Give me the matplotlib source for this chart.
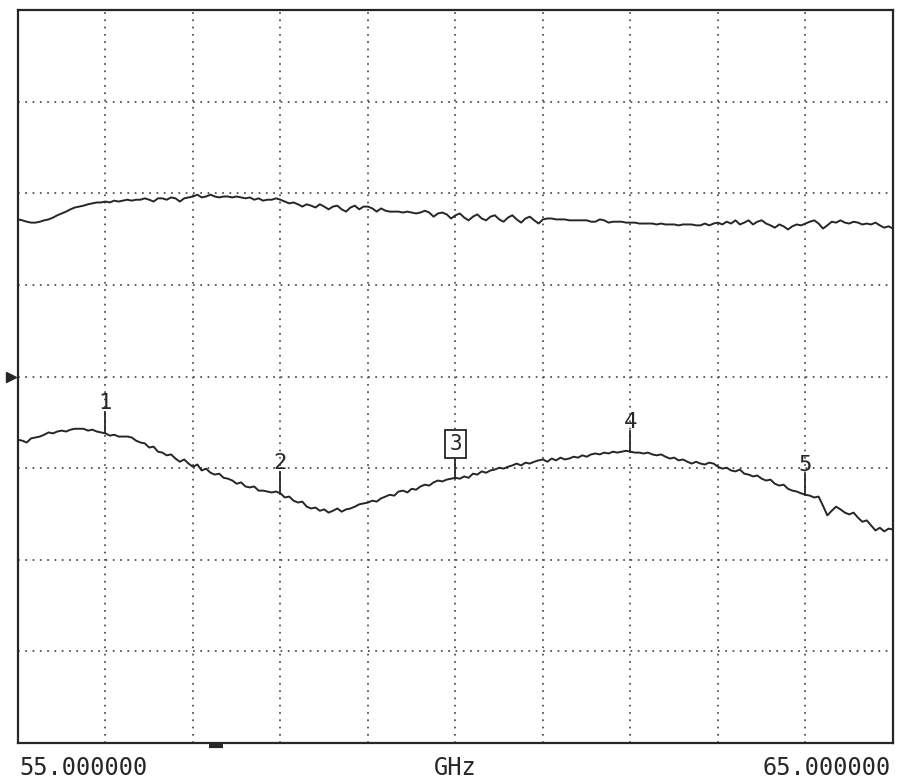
import numpy as np
import matplotlib
matplotlib.use('Agg')
import matplotlib.pyplot as plt

# sweep settings (GHz) and scale
start_ghz = 55.0
stop_ghz = 65.0
db_per_div = 2.0
n_div_y = 8

# upper trace, dB, one reading per 0.05 GHz
upper_db = [3.43, 3.41, 3.38, 3.36, 3.36, 3.38, 3.41, 3.43, 3.47, 3.52,
            3.56, 3.60, 3.65, 3.69, 3.71, 3.73, 3.76, 3.78, 3.80, 3.80,
            3.82, 3.80, 3.84, 3.82, 3.84, 3.86, 3.84, 3.86, 3.86, 3.89,
            3.86, 3.82, 3.89, 3.89, 3.86, 3.91, 3.89, 3.82, 3.89, 3.91,
            3.93, 3.97, 3.91, 3.93, 3.97, 3.93, 3.91, 3.93, 3.93, 3.91,
            3.93, 3.91, 3.89, 3.91, 3.86, 3.89, 3.84, 3.86, 3.86, 3.89,
            3.86, 3.82, 3.78, 3.80, 3.76, 3.71, 3.76, 3.73, 3.69, 3.76,
            3.71, 3.65, 3.71, 3.73, 3.65, 3.60, 3.69, 3.73, 3.65, 3.71,
            3.71, 3.67, 3.60, 3.67, 3.62, 3.60, 3.60, 3.60, 3.58, 3.60,
            3.58, 3.56, 3.58, 3.62, 3.58, 3.49, 3.56, 3.58, 3.54, 3.45,
            3.52, 3.56, 3.47, 3.41, 3.49, 3.54, 3.45, 3.41, 3.49, 3.52,
            3.43, 3.38, 3.47, 3.52, 3.43, 3.36, 3.45, 3.49, 3.41, 3.34,
            3.43, 3.45, 3.45, 3.43, 3.43, 3.43, 3.41, 3.41, 3.41, 3.41,
            3.41, 3.38, 3.38, 3.43, 3.41, 3.36, 3.38, 3.38, 3.38, 3.36,
            3.36, 3.36, 3.34, 3.34, 3.34, 3.34, 3.32, 3.34, 3.32, 3.32,
            3.32, 3.30, 3.32, 3.32, 3.32, 3.30, 3.30, 3.34, 3.30, 3.34,
            3.36, 3.32, 3.38, 3.34, 3.41, 3.32, 3.36, 3.41, 3.32, 3.38,
            3.41, 3.34, 3.30, 3.25, 3.32, 3.28, 3.21, 3.28, 3.32, 3.30,
            3.34, 3.38, 3.41, 3.34, 3.23, 3.30, 3.38, 3.36, 3.41, 3.36,
            3.34, 3.38, 3.36, 3.32, 3.34, 3.32, 3.36, 3.30, 3.25, 3.28,
            3.23]

# lower trace, dB, one reading per 0.05 GHz
lower_db = [-1.38, -1.40, -1.44, -1.35, -1.33, -1.31, -1.27, -1.22, -1.24, -1.20,
            -1.18, -1.20, -1.16, -1.14, -1.14, -1.14, -1.18, -1.16, -1.20, -1.22,
            -1.24, -1.29, -1.27, -1.31, -1.31, -1.31, -1.33, -1.40, -1.44, -1.46,
            -1.55, -1.53, -1.64, -1.66, -1.72, -1.70, -1.79, -1.86, -1.81, -1.90,
            -1.97, -1.92, -2.05, -2.01, -2.10, -2.14, -2.12, -2.21, -2.23, -2.27,
            -2.34, -2.31, -2.40, -2.42, -2.40, -2.49, -2.49, -2.51, -2.53, -2.51,
            -2.55, -2.64, -2.62, -2.71, -2.75, -2.73, -2.84, -2.88, -2.86, -2.93,
            -2.90, -2.97, -2.93, -2.88, -2.95, -2.90, -2.88, -2.84, -2.79, -2.77,
            -2.75, -2.71, -2.73, -2.66, -2.62, -2.58, -2.60, -2.51, -2.49, -2.53,
            -2.45, -2.47, -2.40, -2.36, -2.38, -2.31, -2.27, -2.29, -2.25, -2.23,
            -2.21, -2.23, -2.18, -2.21, -2.12, -2.14, -2.07, -2.10, -2.05, -2.03,
            -1.99, -2.01, -1.97, -1.94, -1.90, -1.94, -1.88, -1.90, -1.86, -1.83,
            -1.81, -1.86, -1.79, -1.83, -1.77, -1.81, -1.79, -1.75, -1.77, -1.72,
            -1.75, -1.70, -1.68, -1.70, -1.66, -1.68, -1.64, -1.66, -1.64, -1.62,
            -1.64, -1.66, -1.66, -1.68, -1.66, -1.70, -1.72, -1.70, -1.75, -1.79,
            -1.77, -1.83, -1.81, -1.86, -1.90, -1.86, -1.90, -1.92, -1.88, -1.90,
            -1.97, -2.01, -1.99, -2.05, -2.07, -2.03, -2.12, -2.14, -2.18, -2.16,
            -2.23, -2.27, -2.25, -2.34, -2.38, -2.36, -2.45, -2.49, -2.51, -2.55,
            -2.58, -2.60, -2.64, -2.62, -2.82, -3.03, -2.93, -2.84, -2.90, -2.97,
            -3.01, -2.97, -3.08, -3.17, -3.14, -3.25, -3.36, -3.30, -3.38, -3.32,
            -3.34]

# markers on the lower trace
marker_ghz = [56.0, 58.0, 60.0, 62.0, 64.0]
marker_labels = ['1', '2', '3', '4', '5']
active_marker = '3'

sweep_pointer_ghz = 57.26

freq = np.linspace(start_ghz, stop_ghz, len(upper_db))
ink = '#262626'

fig = plt.figure(figsize=(8.98, 7.8), dpi=100)
ax = fig.add_axes([0.020, 0.0474, 0.9744, 0.9397])

y_top = db_per_div * n_div_y / 2
ax.set_xlim(start_ghz, stop_ghz)
ax.set_ylim(-y_top, y_top)
ax.set_xticks(np.arange(start_ghz, stop_ghz + 0.5, 1.0))
ax.set_yticks(np.arange(-y_top, y_top + 0.1, db_per_div))
ax.tick_params(length=0, labelbottom=False, labelleft=False)
ax.grid(True, color='#4a4a4a', linestyle=(0, (1, 3.2)), linewidth=1.25)
for s in ax.spines.values():
    s.set_color(ink)
    s.set_linewidth(1.6)

ax.plot(freq, upper_db, color=ink, lw=1.4)
ax.plot(freq, lower_db, color=ink, lw=1.4)

# marker ticks and numbers
step = freq[1] - freq[0]
for f, lab in zip(marker_ghz, marker_labels):
    v = lower_db[int(round((f - start_ghz) / step))]
    ax.plot([f, f], [v, v + 0.46], color=ink, lw=1.3)
    if lab == active_marker:
        ax.text(f, v + 0.52, lab, ha='center', va='bottom', fontsize=15,
                family='DejaVu Sans Mono', color=ink,
                bbox=dict(boxstyle='square,pad=0.18', fc='white', ec=ink, lw=1.3))
    else:
        ax.text(f, v + 0.44, lab, ha='center', va='bottom', fontsize=16,
                family='DejaVu Sans Mono', color=ink)

# reference level pointer on the left, sweep pointer below
ax.plot([-0.008], [0], marker='>', ms=7, color=ink,
        transform=ax.get_yaxis_transform(), clip_on=False)
ax.plot([sweep_pointer_ghz - 0.08, sweep_pointer_ghz + 0.08], [-y_top - 0.06, -y_top - 0.06],
        color=ink, lw=3, clip_on=False, solid_capstyle='butt')

fig.text(0.022, 0.006, '%.6f' % start_ghz, ha='left', va='baseline',
         fontsize=17, family='DejaVu Sans Mono', color=ink)
fig.text(0.507, 0.006, 'GHz', ha='center', va='baseline',
         fontsize=17, family='DejaVu Sans Mono', color=ink)
fig.text(0.992, 0.006, '%.6f' % stop_ghz, ha='right', va='baseline',
         fontsize=17, family='DejaVu Sans Mono', color=ink)

fig.savefig('out.png', dpi=100, facecolor='white')
